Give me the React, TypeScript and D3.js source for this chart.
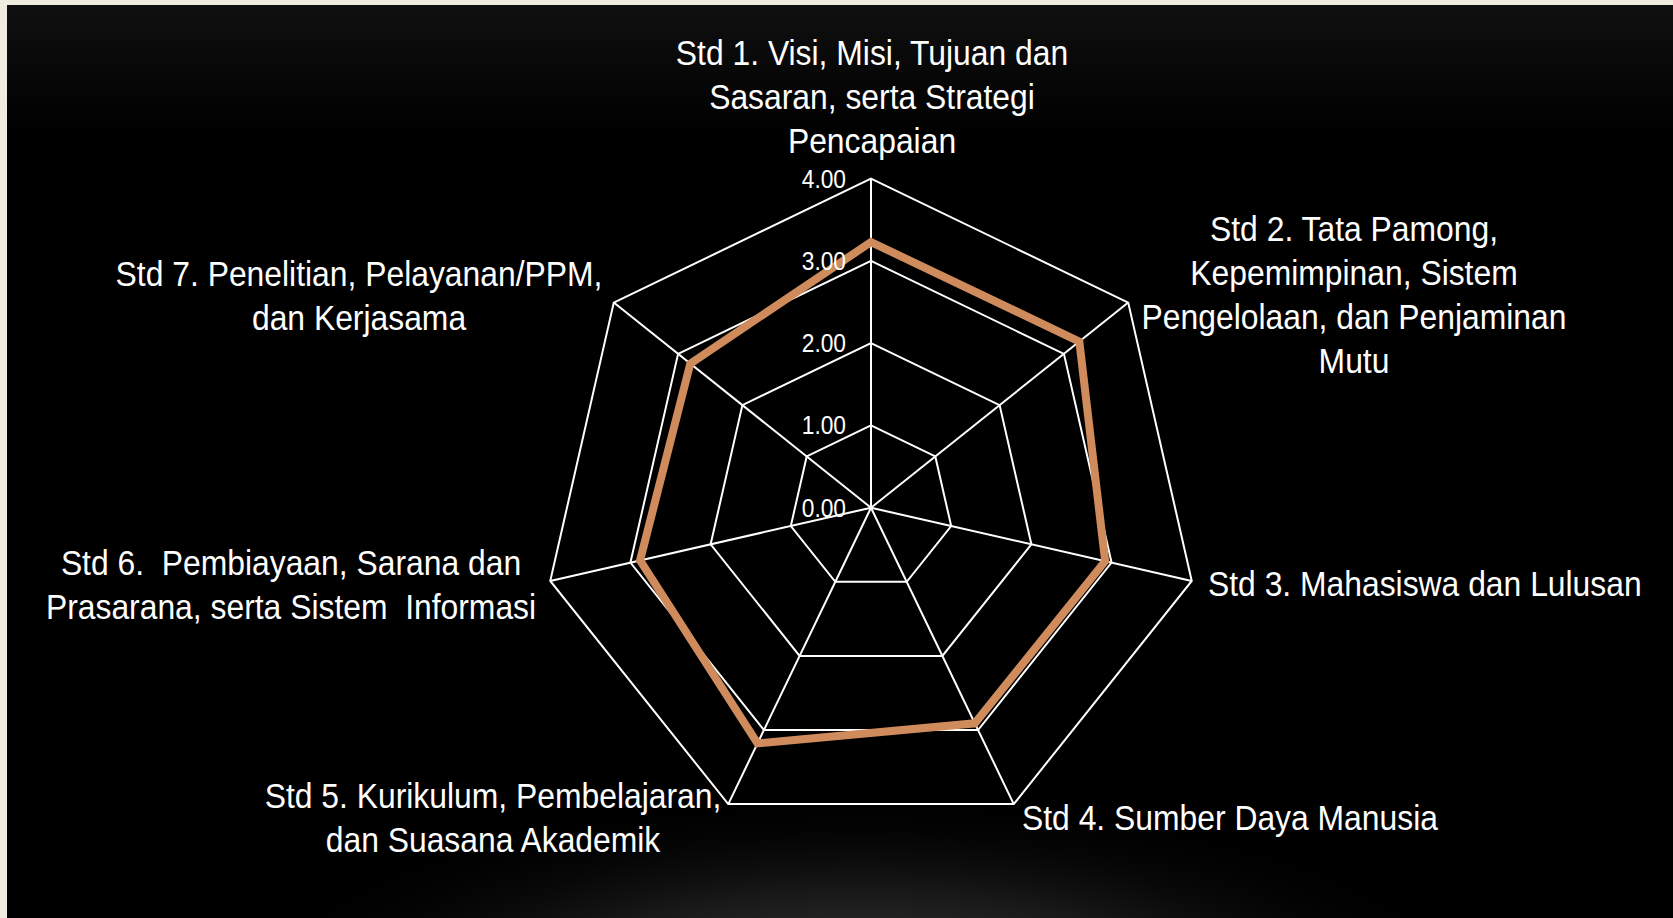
import React from "react";
import * as d3 from "d3";

const categories: string[][] = [
  ["Std 1. Visi, Misi, Tujuan dan", "Sasaran, serta Strategi", "Pencapaian"],
  ["Std 2. Tata Pamong,", "Kepemimpinan, Sistem", "Pengelolaan, dan Penjaminan", "Mutu"],
  ["Std 3. Mahasiswa dan Lulusan"],
  ["Std 4. Sumber Daya Manusia"],
  ["Std 5. Kurikulum, Pembelajaran,", "dan Suasana Akademik"],
  ["Std 6.  Pembiayaan, Sarana dan", "Prasarana, serta Sistem  Informasi"],
  ["Std 7. Penelitian, Pelayanan/PPM,", "dan Kerjasama"],
];
const scores: number[] = [3.23, 3.24, 2.92, 2.91, 3.18, 2.88, 2.81];
const tickValues: number[] = [0, 1, 2, 3, 4];

// layout (not data)
const W = 1673, H = 918;
const CX = 871, CY = 507.7, R = 329;
const LH = 44;
const labelLayout = [
  { x: 872, cy: 96, anchor: "middle" },
  { x: 1354, cy: 294.5, anchor: "middle" },
  { x: 1208, cy: 583.6, anchor: "start" },
  { x: 1022, cy: 817, anchor: "start" },
  { x: 493, cy: 817, anchor: "middle" },
  { x: 291, cy: 584, anchor: "middle" },
  { x: 359, cy: 295, anchor: "middle" },
];

export default function App() {
  const n = categories.length;
  const r = d3.scaleLinear().domain([0, 4]).range([0, R]);
  const angle = (i: number) => (i * 2 * Math.PI) / n;
  const pt = (i: number, v: number): [number, number] => [
    CX + r(v) * Math.sin(angle(i)),
    CY - r(v) * Math.cos(angle(i)),
  ];
  const line = d3.line<[number, number]>().curve(d3.curveLinearClosed);
  const font = "'Liberation Sans', Arial, sans-serif";

  return (
    <svg width={W} height={H} style={{ position: "absolute", left: 0, top: 0 }}>
      <defs>
        <linearGradient id="topg" x1="0" y1="0" x2="0" y2="1">
          <stop offset="0" stopColor="#101010" />
          <stop offset="0.14" stopColor="#000000" />
          <stop offset="1" stopColor="#000000" />
        </linearGradient>
        <radialGradient id="glow" cx="0.5" cy="0.5" r="0.5">
          <stop offset="0" stopColor="#404040" stopOpacity="1" />
          <stop offset="0.5" stopColor="#1e1e1e" stopOpacity="0.8" />
          <stop offset="1" stopColor="#000000" stopOpacity="0" />
        </radialGradient>
      </defs>
      <rect x={0} y={0} width={W} height={H} fill="#efece0" />
      <rect x={7} y={5} width={W - 7} height={H - 5} fill="url(#topg)" />
      <ellipse cx={860} cy={990} rx={640} ry={200} fill="url(#glow)" />

      {/* grid rings */}
      {tickValues.slice(1).map((t) => (
        <path
          key={"ring" + t}
          d={line(d3.range(n).map((i) => pt(i, t))) || ""}
          fill="none"
          stroke="#ffffff"
          strokeWidth={2}
        />
      ))}
      {/* spokes */}
      {d3.range(n).map((i) => {
        const [x, y] = pt(i, 4);
        return <line key={"sp" + i} x1={CX} y1={CY} x2={x} y2={y} stroke="#ffffff" strokeWidth={2} />;
      })}

      {/* series */}
      <path
        d={line(scores.map((v, i) => pt(i, v))) || ""}
        fill="none"
        stroke="#cf8b5c"
        strokeWidth={8}
        strokeLinejoin="miter"
      />

      {/* tick labels */}
      {tickValues.map((t) => (
        <text
          key={"tk" + t}
          transform={`translate(${CX - 25},${CY - r(t) + 9}) scale(0.91,1)`}
          textAnchor="end"
          fontFamily={font}
          fontSize={25}
          fill="#ffffff"
        >
          {t.toFixed(2)}
        </text>
      ))}

      {/* category labels */}
      {categories.map((lines, i) => {
        const L = labelLayout[i];
        const top = L.cy - ((lines.length - 1) / 2) * LH + 12.5;
        return (
          <g key={"lab" + i}>
            {lines.map((s, k) => (
              <text
                key={k}
                transform={`translate(${L.x},${top + k * LH}) scale(0.91,1)`}
                textAnchor={L.anchor as any}
                fontFamily={font}
                fontSize={35}
                fill="#ffffff"
                style={{ whiteSpace: "pre" }}
                xmlSpace="preserve"
              >
                {s}
              </text>
            ))}
          </g>
        );
      })}
    </svg>
  );
}
